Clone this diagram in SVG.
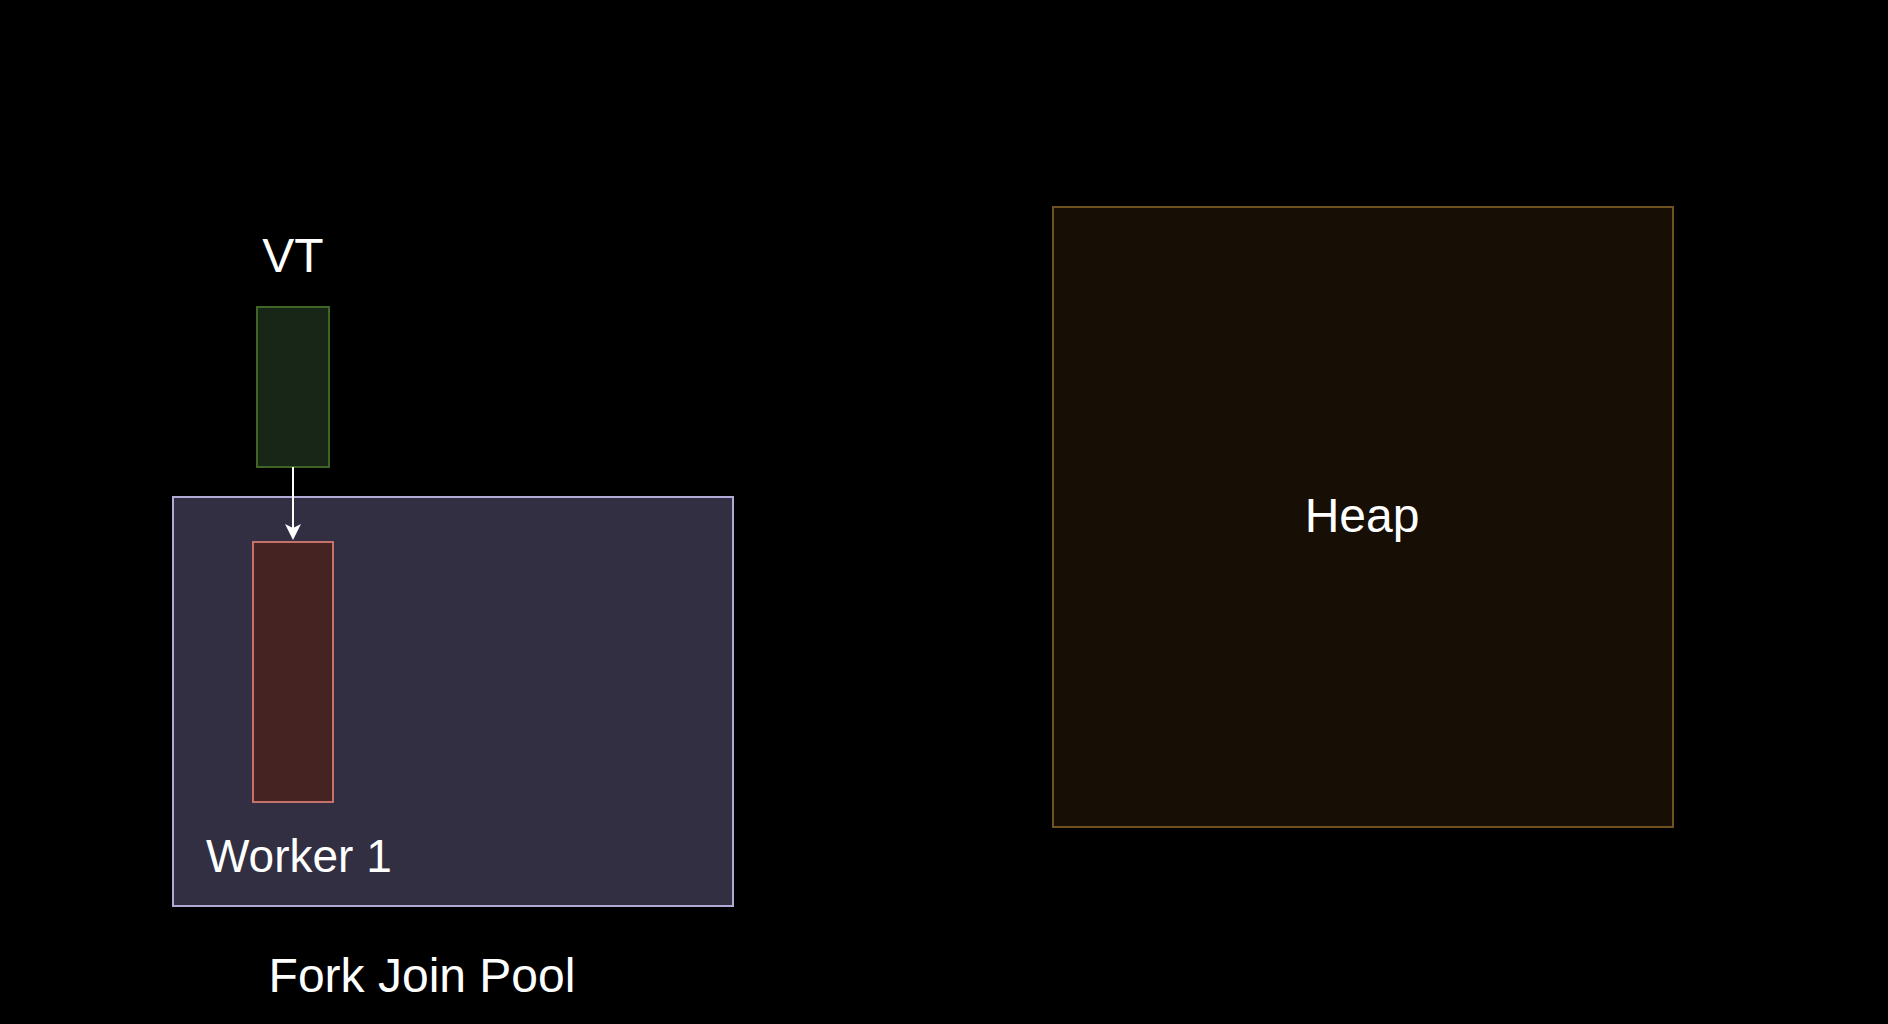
<svg xmlns="http://www.w3.org/2000/svg" width="1888" height="1024" viewBox="0 0 1888 1024">
<style>
text{font-family:"Liberation Sans",Arial,sans-serif;font-size:48px;fill:#ffffff}
</style>
<rect x="0" y="0" width="1888" height="1024" fill="#000000"/>
<g id="heap">
<rect x="1053" y="207" width="620" height="620" fill="#170e05" stroke="#6f521f" stroke-width="2"/>
<text x="1362" y="532" text-anchor="middle">Heap</text>
</g>
<g id="pool">
<rect x="173" y="497" width="560" height="409" fill="#322f43" stroke="#b3a9d6" stroke-width="2"/>
<text x="422" y="992" text-anchor="middle">Fork Join Pool</text>
</g>
<g id="worker1">
<rect x="253" y="542" width="80" height="260" fill="#462323" stroke="#c8706a" stroke-width="2"/>
<text x="206" y="872" style="font-size:46px">Worker 1</text>
</g>
<g id="vt">
<rect x="257" y="307" width="72" height="160" fill="#172616" stroke="#3e6526" stroke-width="2"/>
<text x="293" y="272" text-anchor="middle">VT</text>
</g>
<g id="connectors">
<line x1="293" y1="467" x2="293" y2="530" stroke="#ffffff" stroke-width="2"/>
<path d="M285,524 L293,540 L301,524 L293,528 Z" fill="#ffffff"/>
</g>
</svg>
